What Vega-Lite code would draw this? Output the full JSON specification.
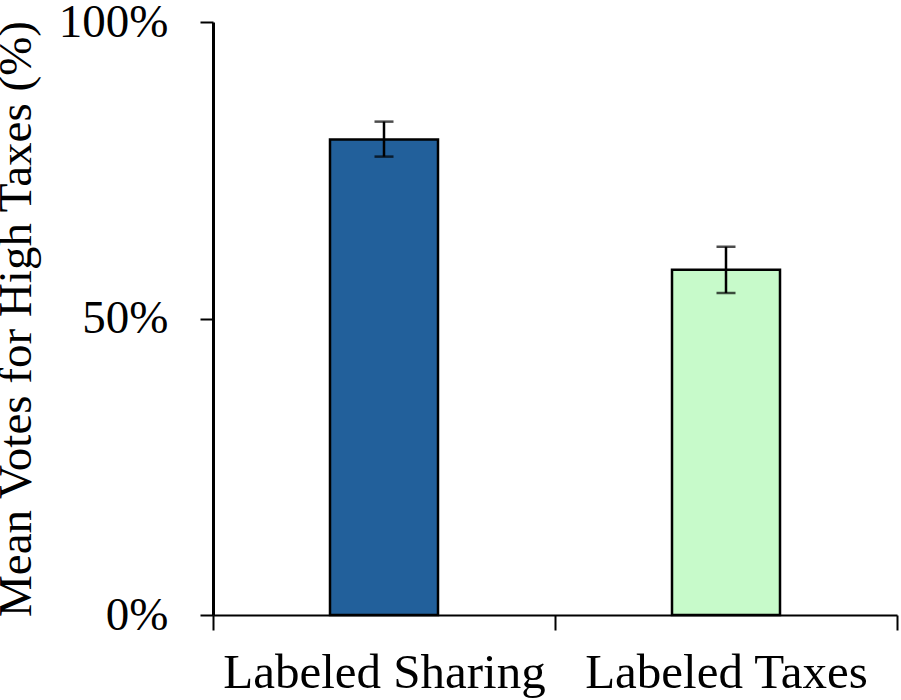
{
  "$schema": "https://vega.github.io/schema/vega-lite/v6.json",
  "autosize": "none",
  "width": 684,
  "height": 593,
  "padding": {"left": 213, "top": 22, "right": 4, "bottom": 85},
  "background": "white",
  "data": {
    "values": [
      {"condition": "Labeled Sharing", "mean": 80.2, "low": 77.3, "high": 83.2},
      {"condition": "Labeled Taxes", "mean": 58.2, "low": 54.3, "high": 62.1}
    ]
  },
  "encoding": {
    "x": {
      "field": "condition",
      "type": "nominal",
      "sort": null,
      "scale": {"paddingInner": 0, "paddingOuter": 0},
      "axis": {
        "title": null,
        "labelAngle": 0,
        "labelLimit": 0,
        "labelFontSize": 49,
        "tickBand": "extent",
        "tickSize": 15,
        "tickWidth": 2,
        "domainWidth": 2,
        "labelPadding": 18
      }
    }
  },
  "layer": [
    {
      "mark": {"type": "bar", "size": 108, "stroke": "black", "strokeWidth": 2.5},
      "encoding": {
        "y": {
          "field": "mean",
          "type": "quantitative",
          "title": "Mean Votes for High Taxes (%)",
          "scale": {"domain": [0, 100], "nice": false},
          "axis": {
            "values": [0, 50, 100],
            "labelExpr": "datum.value + '%'",
            "grid": false,
            "tickSize": 13,
            "tickWidth": 2,
            "domainWidth": 3,
            "labelPadding": 32,
            "titlePadding": 18
          }
        },
        "color": {
          "field": "condition",
          "type": "nominal",
          "scale": {"domain": ["Labeled Sharing", "Labeled Taxes"], "range": ["#22609B", "#C7FACA"]},
          "legend": null
        }
      }
    },
    {
      "mark": {
        "type": "errorbar",
        "ticks": {"size": 19, "thickness": 2.5, "color": "black"},
        "rule": {"strokeWidth": 2.5, "color": "black"}
      },
      "encoding": {
        "y": {"field": "low", "type": "quantitative", "title": "Mean Votes for High Taxes (%)"},
        "y2": {"field": "high"}
      }
    }
  ],
  "config": {
    "font": "Liberation Serif",
    "view": {"stroke": null},
    "axis": {
      "labelFont": "Liberation Serif",
      "titleFont": "Liberation Serif",
      "labelFontSize": 47,
      "titleFontSize": 47,
      "titleFontWeight": "normal",
      "labelColor": "black",
      "titleColor": "black",
      "domainColor": "black",
      "tickColor": "black"
    }
  }
}
